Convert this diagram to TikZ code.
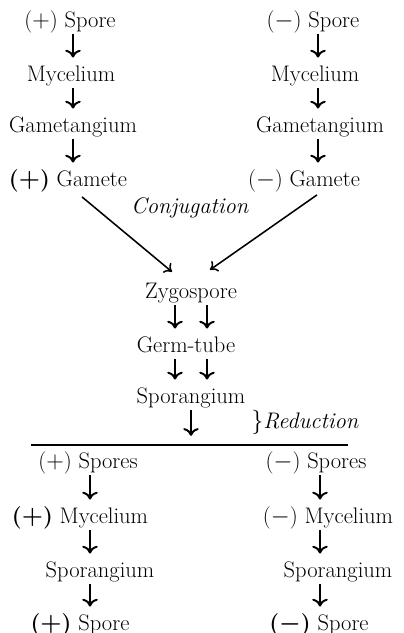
\documentclass[tikz,border=0pt]{standalone}
\usepackage{tikz}
\usetikzlibrary{arrows.meta,positioning}

\newcommand{\sg}[1]{($#1$)}
\newcommand{\bsg}[1]{{\boldmath\textbf{($#1$)}}}

\begin{document}
\begin{tikzpicture}[
  x=0.025cm, y=-0.025cm,
  lbl/.style={inner sep=0pt, anchor=base, font=\fontsize{16}{19}\selectfont,
              text height=12pt, text depth=4pt},
  dn/.style={-{Computer Modern Rightarrow[length=5.5pt,width=11pt]}, line width=1.4pt,
             shorten <=1pt, shorten >=4.5pt},
  cj/.style={-{Computer Modern Rightarrow[length=5pt,width=9pt]}, line width=1.1pt}
]
\useasboundingbox (0,0) rectangle (403,633);
% ---------------- columns ----------------
\coordinate (cL) at (73,0);
\coordinate (cR) at (318,0);
\coordinate (pa) at (175,0);
\coordinate (pb) at (207,0);
\coordinate (bL) at (90,0);
\coordinate (bR) at (320,0);
% ---------------- (+) strain ----------------
\node[lbl] (sporeL) at (70,27) {\sg{+} Spore};
\node[lbl] (mycL) at (71,81) {Mycelium};
\node[lbl] (gamtL) at (73,132) {Gametangium};
\node[lbl] (gamL) at (68,186) {\bsg{+} Gamete};
\draw[dn] (sporeL.south -| cL) -- (mycL.north -| cL);
\draw[dn] (mycL.south -| cL) -- (gamtL.north -| cL);
\draw[dn] (gamtL.south -| cL) -- (gamL.north -| cL);
% ---------------- (-) strain ----------------
\node[lbl] (sporeR) at (313,27) {\sg{-} Spore};
\node[lbl] (mycR) at (315,81) {Mycelium};
\node[lbl] (gamtR) at (320,132) {Gametangium};
\node[lbl] (gamR) at (304,186) {\sg{-} Gamete};
\draw[dn] (sporeR.south -| cR) -- (mycR.north -| cR);
\draw[dn] (mycR.south -| cR) -- (gamtR.north -| cR);
\draw[dn] (gamtR.south -| cR) -- (gamR.north -| cR);
% ---------------- conjugation ----------------
\node[lbl] (conj) at (190,213) {\textit{Conjugation}};
\node[lbl] (zygo) at (191,298) {Zygospore};
\node[lbl] (germ) at (186,352) {Germ-tube};
\node[lbl] (spor) at (191,403) {Sporangium};
\draw[cj] ([shift={(14,5)}]gamL.south) -- ([shift={(-19,-9)}]zygo.north);
\draw[cj] ([shift={(13,3)}]gamR.south) -- ([shift={(19,-11)}]zygo.north);
\draw[dn] (zygo.south -| pa) -- (germ.north -| pa);
\draw[dn] (zygo.south -| pb) -- (germ.north -| pb);
\draw[dn] (germ.south -| pa) -- (spor.north -| pa);
\draw[dn] (germ.south -| pb) -- (spor.north -| pb);
% ---------------- reduction ----------------
\coordinate (lineL) at (31,445);
\coordinate (lineR) at (348,445);
\draw[line width=1.4pt] (lineL) -- (lineR);
\draw[dn, shorten >=6.5pt] (spor.south) -- (spor.south |- lineL);
\node[lbl, anchor=base west] (red) at (251,428) {$\big\}$\textit{Reduction}};
% ---------------- haploid offspring ----------------
\node[lbl] (sporesL) at (88,468) {\sg{+} Spores};
\node[lbl] (mycL2) at (80,523) {\bsg{+} Mycelium};
\node[lbl] (sporL2) at (100,577) {Sporangium};
\node[lbl] (endL) at (80,630) {\bsg{+} Spore};
\draw[dn] (sporesL.south -| bL) -- (mycL2.north -| bL);
\draw[dn] (mycL2.south -| bL) -- (sporL2.north -| bL);
\draw[dn] (sporL2.south -| bL) -- (endL.north -| bL);
\node[lbl] (sporesR) at (316,468) {\sg{-} Spores};
\node[lbl] (mycR2) at (328,523) {\sg{-} Mycelium};
\node[lbl] (sporR2) at (338,577) {Sporangium};
\node[lbl] (endR) at (319,630) {\bsg{-} Spore};
\draw[dn] (sporesR.south -| bR) -- (mycR2.north -| bR);
\draw[dn] (mycR2.south -| bR) -- (sporR2.north -| bR);
\draw[dn] (sporR2.south -| bR) -- (endR.north -| bR);
\end{tikzpicture}
\end{document}
